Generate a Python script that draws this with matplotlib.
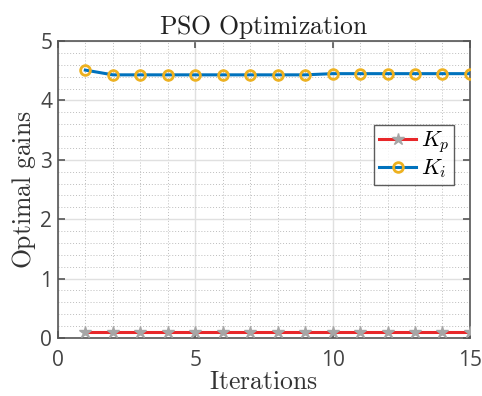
import matplotlib
matplotlib.use("Agg")
import matplotlib.pyplot as plt
from matplotlib.ticker import MultipleLocator

# PSO gains per iteration
iterations = [1, 2, 3, 4, 5, 6, 7, 8, 9, 10, 11, 12, 13, 14, 15]
kp_values = [0.1, 0.1, 0.1, 0.1, 0.1, 0.1, 0.1, 0.1, 0.1, 0.1, 0.1, 0.1, 0.1, 0.1, 0.1]
ki_values = [4.51, 4.43, 4.43, 4.43, 4.43, 4.43, 4.43, 4.43, 4.43, 4.45, 4.45, 4.45, 4.45, 4.45, 4.45]

plt.rcParams['mathtext.fontset'] = 'cm'
plt.rcParams['font.family'] = ['Open Sans', 'DejaVu Sans']

fig = plt.figure(figsize=(4.82, 3.96), dpi=100)
ax = fig.add_axes([0.120, 0.1465, 0.855, 0.75])

ax.plot(iterations, kp_values, color='#E8272A', lw=2.2, marker='*', ms=9,
        mfc='#A6A6A6', mec='#A6A6A6', label=r'$K_p$', zorder=3)
ax.plot(iterations, ki_values, color='#0072BD', lw=2.2, marker='o', ms=7,
        mfc='none', mec='#EDB120', mew=2, label=r'$K_i$', zorder=3)

ax.set_xlim(0, 15)
ax.set_ylim(0, 5)
ax.xaxis.set_major_locator(MultipleLocator(5))
ax.xaxis.set_minor_locator(MultipleLocator(1))
ax.yaxis.set_major_locator(MultipleLocator(1))
ax.yaxis.set_minor_locator(MultipleLocator(0.2))

ax.grid(which='major', color='#E0E0E0', lw=1.0, ls='-')
ax.grid(which='minor', color='#BDBDBD', lw=0.7, ls=(0, (1, 2)))
ax.set_axisbelow(True)

for s in ax.spines.values():
    s.set_color('#555555')
    s.set_linewidth(1.2)
ax.tick_params(which='both', direction='in', top=True, right=True, colors='#555555',
               labelsize=15, labelcolor='#444444')
ax.tick_params(which='major', length=5, width=1.2)
ax.tick_params(axis='x', which='major', pad=9)
ax.tick_params(axis='y', which='major', pad=4)
ax.tick_params(which='minor', length=0)

ax.set_title(r'$\mathrm{PSO\ Optimization}$', fontsize=18.5, color='#222222', pad=5)
ax.set_xlabel(r'$\mathrm{Iterations}$', fontsize=18.5, color='#333333', labelpad=-1)
ax.set_ylabel(r'$\mathrm{Optimal\ gains}$', fontsize=18.5, color='#333333', labelpad=2)

leg = ax.legend(loc='upper right', bbox_to_anchor=(0.961, 0.718), fontsize=16,
                frameon=True, fancybox=False, handlelength=1.7, borderpad=0.2,
                labelspacing=0.1, handletextpad=0.2, borderaxespad=0)
leg.get_frame().set_edgecolor('#333333')
leg.get_frame().set_linewidth(1.0)

fig.savefig('out.png', dpi=100)
